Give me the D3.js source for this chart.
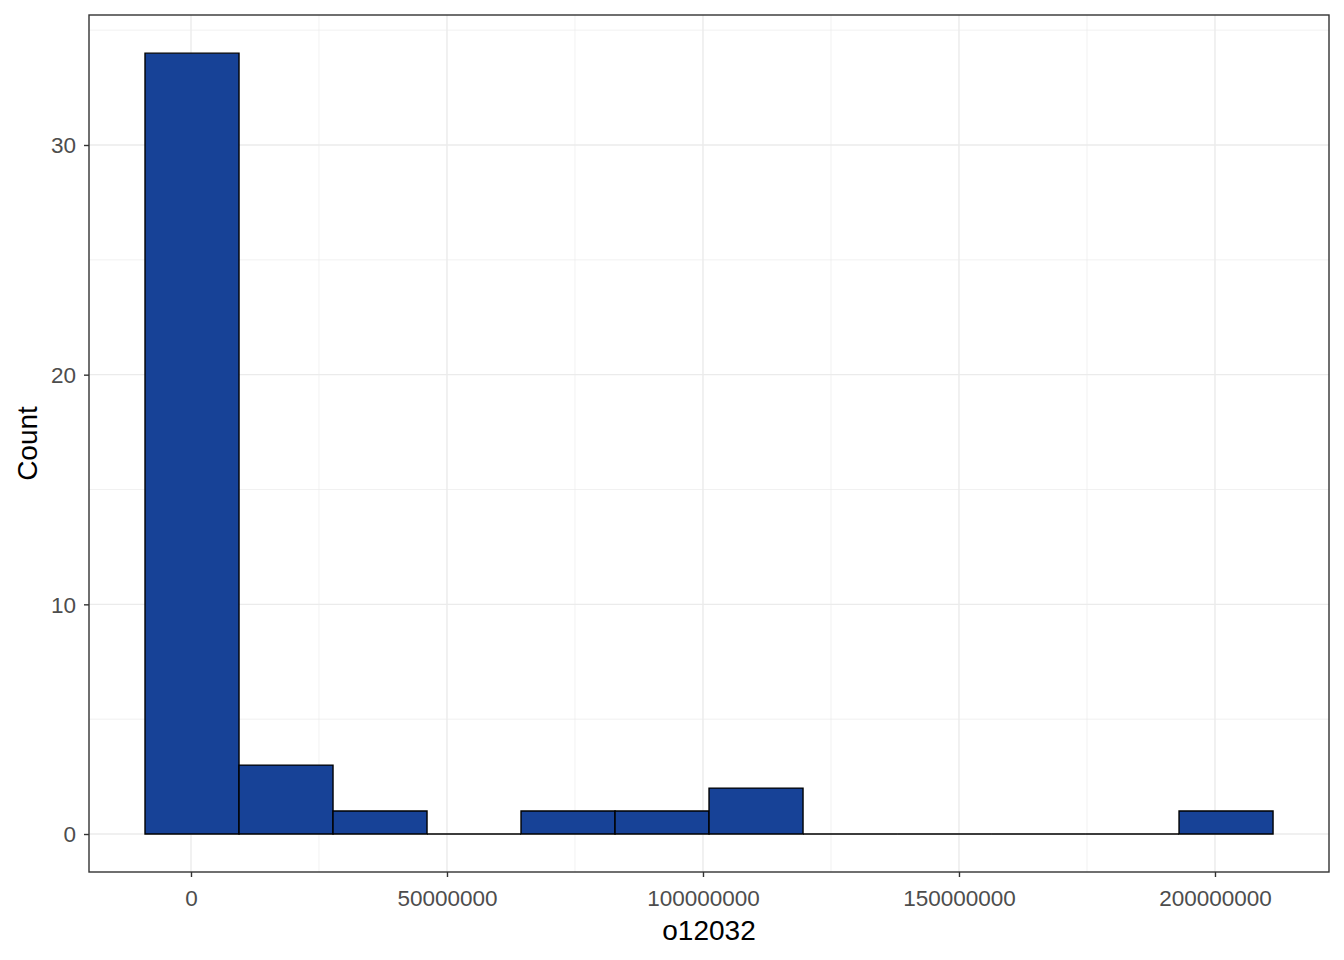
<!DOCTYPE html>
<html><head><meta charset="utf-8">
<script src="https://cdn.jsdelivr.net/npm/d3@7"></script>
<style>body{margin:0;background:#fff}svg{display:block;font-family:"Liberation Sans",Arial,sans-serif}</style>
</head><body><svg id="c" width="1344" height="960"></svg>
<script>
// bin edges in millions
const binStarts = [-8.98, 9.38, 27.74, 46.1, 64.46, 82.82, 101.18, 119.54, 137.9, 156.26, 174.62, 192.98];
const binWidth = 18.36;
const counts = [34, 3, 1, 0, 1, 1, 2, 0, 0, 0, 0, 1];
const xTicks = [0, 50000000, 100000000, 150000000, 200000000];
const xMinor = [25000000, 75000000, 125000000, 175000000];
const yTicks = [0, 10, 20, 30];
const yMinor = [5, 15, 25, 35];

const svg = d3.select("#c");
const L = 89, R = 1329, T = 15, B = 872;
const x = d3.scaleLinear().domain([-19.92e6, 222.27e6]).range([L, R]);
const y = d3.scaleLinear().domain([-1.654, 35.66]).range([B, T]);

const g = svg.append("g");
g.append("rect").attr("x", L).attr("y", T).attr("width", R - L).attr("height", B - T).attr("fill", "#fff");
g.selectAll(".xm").data(xMinor).join("line").attr("x1", d => x(d)).attr("x2", d => x(d)).attr("y1", T).attr("y2", B).attr("stroke", "#EBEBEB").attr("stroke-width", 0.7);
g.selectAll(".ym").data(yMinor).join("line").attr("y1", d => y(d)).attr("y2", d => y(d)).attr("x1", L).attr("x2", R).attr("stroke", "#EBEBEB").attr("stroke-width", 0.7);
g.selectAll(".xM").data(xTicks).join("line").attr("x1", d => x(d)).attr("x2", d => x(d)).attr("y1", T).attr("y2", B).attr("stroke", "#EBEBEB").attr("stroke-width", 1.4);
g.selectAll(".yM").data(yTicks).join("line").attr("y1", d => y(d)).attr("y2", d => y(d)).attr("x1", L).attr("x2", R).attr("stroke", "#EBEBEB").attr("stroke-width", 1.4);

const bins = binStarts.map((s, i) => ({x0: s * 1e6, x1: (s + binWidth) * 1e6, n: counts[i]}));
g.selectAll(".bar").data(bins).join("path")
  .attr("d", d => {
    const a = x(d.x0), b = x(d.x1), t = y(d.n), z = y(0);
    return `M${a},${z}L${a},${t}L${b},${t}L${b},${z}Z`;
  })
  .attr("fill", "#174297").attr("stroke", "#000").attr("stroke-width", 1.4).attr("stroke-linejoin", "miter");

g.append("rect").attr("x", L).attr("y", T).attr("width", R - L).attr("height", B - T).attr("fill", "none").attr("stroke", "#333").attr("stroke-width", 1.4);

// axes
const xa = svg.append("g").attr("transform", `translate(0,${B})`)
  .call(d3.axisBottom(x).tickValues(xTicks).tickFormat(d3.format("d")).tickSize(5).tickSizeOuter(0));
const ya = svg.append("g").attr("transform", `translate(${L},0)`)
  .call(d3.axisLeft(y).tickValues(yTicks).tickFormat(d3.format("d")).tickSize(5).tickSizeOuter(0));
[xa, ya].forEach(a => {
  a.select(".domain").remove();
  a.selectAll(".tick line").attr("stroke", "#333").attr("stroke-width", 1.4);
  a.selectAll(".tick text").attr("fill", "#4D4D4D").style("font-size", "22.5px").style("font-family", "'Liberation Sans',Arial,sans-serif");
});
xa.selectAll(".tick text").attr("dy", "0.35em").attr("y", 26);
ya.selectAll(".tick text").attr("x", -13).attr("dy", "0.35em");

svg.append("text").attr("x", (L + R) / 2).attr("y", 940).attr("text-anchor", "middle").attr("fill", "#000").style("font-size", "28px").text("o12032");
svg.append("text").attr("transform", `translate(37,${(T + B) / 2}) rotate(-90)`).attr("text-anchor", "middle").attr("fill", "#000").style("font-size", "28px").text("Count");
</script></body></html>
